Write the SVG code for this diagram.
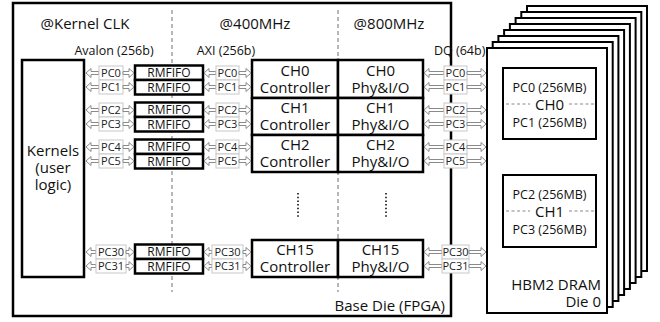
<svg xmlns="http://www.w3.org/2000/svg" xmlns:xlink="http://www.w3.org/1999/xlink" width="660" height="322" viewBox="0 0 660 322">
<style>
text{font-family:"Open Sans","Liberation Sans",sans-serif;fill:#111}
.t15{font-size:15px;text-anchor:middle}
.t12{font-size:12.5px;text-anchor:middle}
.rf{font-size:12px;text-anchor:middle}
.pc{font-size:11px;text-anchor:middle;fill:#222}
.box{fill:#fff;stroke:#000;stroke-width:2.5}
.layer{fill:#fff;stroke:#000;stroke-width:2}
.sep{stroke:#888;stroke-width:1.2;stroke-dasharray:4 3;fill:none}
.dots{stroke:#000;stroke-width:1.5;stroke-dasharray:1.5 2.2;fill:none}
.pcb{fill:#fff;stroke:#c8c8c8;stroke-width:1}
.arr{fill:#fff;stroke:#8a8a8a;stroke-width:1}
.hd{stroke:#888;stroke-width:1;stroke-dasharray:3 2.5}
</style>
<defs>
<g id="pk">
<polygon class="arr" points="86,0 91,-4.5 91,-1.5 99,-1.5 99,1.5 91,1.5 91,4.5"/>
<rect class="pcb" x="99" y="-7" width="24" height="14"/>
<polygon class="arr" points="134,0 129,-4.5 129,-1.5 123,-1.5 123,1.5 129,1.5 129,4.5"/>
</g>
<g id="pkw">
<polygon class="arr" points="86,0 91,-4.5 91,-1.5 96,-1.5 96,1.5 91,1.5 91,4.5"/>
<rect class="pcb" x="96" y="-7" width="30" height="14"/>
<polygon class="arr" points="134,0 129,-4.5 129,-1.5 126,-1.5 126,1.5 129,1.5 129,4.5"/>
</g>
<g id="pa">
<polygon class="arr" points="204,0 209,-4.5 209,-1.5 216,-1.5 216,1.5 209,1.5 209,4.5"/>
<rect class="pcb" x="216" y="-7" width="23" height="14"/>
<polygon class="arr" points="251,0 246,-4.5 246,-1.5 239,-1.5 239,1.5 246,1.5 246,4.5"/>
</g>
<g id="paw">
<polygon class="arr" points="204,0 209,-4.5 209,-1.5 212,-1.5 212,1.5 209,1.5 209,4.5"/>
<rect class="pcb" x="212" y="-7" width="31" height="14"/>
<polygon class="arr" points="251,0 246,-4.5 246,-1.5 243,-1.5 243,1.5 246,1.5 246,4.5"/>
</g>
<g id="pd">
<polygon class="arr" points="424,0 429,-4.5 429,-1.5 444,-1.5 444,1.5 429,1.5 429,4.5"/>
<rect class="pcb" x="444" y="-7" width="23" height="14"/>
<polygon class="arr" points="486,0 481,-4.5 481,-1.5 467,-1.5 467,1.5 481,1.5 481,4.5"/>
</g>
<g id="pdw">
<polygon class="arr" points="424,0 429,-4.5 429,-1.5 442,-1.5 442,1.5 429,1.5 429,4.5"/>
<rect class="pcb" x="442" y="-7" width="27" height="14"/>
<polygon class="arr" points="486,0 481,-4.5 481,-1.5 469,-1.5 469,1.5 481,1.5 481,4.5"/>
</g>
</defs>

<g id="hbm">
<rect class="layer" x="527" y="6" width="120" height="265"/>
<rect class="layer" x="521.3" y="12" width="120" height="265"/>
<rect class="layer" x="515.6" y="18" width="120" height="265"/>
<rect class="layer" x="509.9" y="24" width="120" height="265"/>
<rect class="layer" x="504.1" y="30" width="120" height="265"/>
<rect class="layer" x="498.4" y="36" width="120" height="265"/>
<rect class="layer" x="492.7" y="42" width="120" height="265"/>
<rect class="layer" x="487" y="48" width="120" height="265"/>
<text x="601" y="290" style="font-size:15px;text-anchor:end">HBM2 DRAM<tspan x="601" dy="17">Die 0</tspan></text>
</g>
<g id="hbm-ch0">
<rect class="box" x="503" y="68" width="93" height="71" style="stroke-width:2"/>
<line class="hd" x1="506" y1="104" x2="530" y2="104"/>
<line class="hd" x1="569" y1="104" x2="594" y2="104"/>
<text class="t12" x="549.5" y="92">PC0 (256MB)<tspan x="549.5" dy="18" style="font-size:15px">CH0</tspan><tspan x="549.5" dy="17">PC1 (256MB)</tspan></text>
</g>
<g id="hbm-ch1">
<rect class="box" x="503" y="175" width="93" height="72" style="stroke-width:2"/>
<line class="hd" x1="506" y1="211" x2="530" y2="211"/>
<line class="hd" x1="569" y1="211" x2="594" y2="211"/>
<text class="t12" x="549.5" y="199">PC2 (256MB)<tspan x="549.5" dy="18" style="font-size:15px">CH1</tspan><tspan x="549.5" dy="17">PC3 (256MB)</tspan></text>
</g>

<g id="base-die">
<rect x="13" y="3" width="438" height="313" fill="#fff" stroke="#000" stroke-width="2.5"/>
<line class="sep" x1="172" y1="10" x2="172" y2="292"/>
<line class="sep" x1="338" y1="10" x2="338" y2="292"/>
<text class="t15" x="85" y="29">@Kernel CLK</text>
<text class="t15" x="255" y="29">@400MHz</text>
<text class="t15" x="389" y="29">@800MHz</text>
<text class="t12" x="114" y="55">Avalon (256b)</text>
<text class="t12" x="226" y="55">AXI (256b)</text>
<text x="434" y="55" style="font-size:12.5px">DQ (64b)</text>
<text x="445" y="311" style="font-size:15px;text-anchor:end">Base Die (FPGA)</text>
</g>

<g id="kernels">
<rect class="box" x="22" y="60" width="62" height="217"/>
<text class="t15" x="53" y="156">Kernels<tspan x="53" dy="17">(user</tspan><tspan x="53" dy="17">logic)</tspan></text>
</g>

<g id="rmfifo-0"><rect class="box" x="135" y="65.5" width="68" height="14.5"/><text class="rf" x="169" y="77">RMFIFO</text></g>
<g id="rmfifo-1"><rect class="box" x="135" y="80" width="68" height="14.5"/><text class="rf" x="169" y="91.5">RMFIFO</text></g>
<g id="rmfifo-2"><rect class="box" x="135" y="102.5" width="68" height="14.5"/><text class="rf" x="169" y="114">RMFIFO</text></g>
<g id="rmfifo-3"><rect class="box" x="135" y="117" width="68" height="14.5"/><text class="rf" x="169" y="128.5">RMFIFO</text></g>
<g id="rmfifo-4"><rect class="box" x="135" y="139.5" width="68" height="14.5"/><text class="rf" x="169" y="151">RMFIFO</text></g>
<g id="rmfifo-5"><rect class="box" x="135" y="154" width="68" height="14.5"/><text class="rf" x="169" y="165.5">RMFIFO</text></g>
<g id="rmfifo-30"><rect class="box" x="135" y="244.5" width="68" height="14.5"/><text class="rf" x="169" y="256">RMFIFO</text></g>
<g id="rmfifo-31"><rect class="box" x="135" y="259" width="68" height="14.5"/><text class="rf" x="169" y="270.5">RMFIFO</text></g>

<g id="ch0-ctrl"><rect class="box" x="252" y="60" width="86" height="38"/><text class="t15" x="295" y="76">CH0<tspan x="295" dy="17">Controller</tspan></text></g>
<g id="ch0-phy"><rect class="box" x="338" y="60" width="85" height="38"/><text class="t15" x="380.5" y="76">CH0<tspan x="380.5" dy="17">Phy&amp;I/O</tspan></text></g>
<g id="ch1-ctrl"><rect class="box" x="252" y="98" width="86" height="37"/><text class="t15" x="295" y="113">CH1<tspan x="295" dy="17">Controller</tspan></text></g>
<g id="ch1-phy"><rect class="box" x="338" y="98" width="85" height="37"/><text class="t15" x="380.5" y="113">CH1<tspan x="380.5" dy="17">Phy&amp;I/O</tspan></text></g>
<g id="ch2-ctrl"><rect class="box" x="252" y="135" width="86" height="37"/><text class="t15" x="295" y="150">CH2<tspan x="295" dy="17">Controller</tspan></text></g>
<g id="ch2-phy"><rect class="box" x="338" y="135" width="85" height="37"/><text class="t15" x="380.5" y="150">CH2<tspan x="380.5" dy="17">Phy&amp;I/O</tspan></text></g>
<g id="ch15-ctrl"><rect class="box" x="252" y="240" width="86" height="37"/><text class="t15" x="295" y="255">CH15<tspan x="295" dy="17">Controller</tspan></text></g>
<g id="ch15-phy"><rect class="box" x="338" y="240" width="85" height="37"/><text class="t15" x="380.5" y="255">CH15<tspan x="380.5" dy="17">Phy&amp;I/O</tspan></text></g>
<g id="ellipsis">
<line class="dots" x1="298" y1="193" x2="298" y2="217"/>
<line class="dots" x1="386" y1="193" x2="386" y2="217"/>
</g>

<g id="connectors">
<use href="#pk" xlink:href="#pk" transform="translate(0,73)"/>
<use href="#pk" xlink:href="#pk" transform="translate(0,87)"/>
<use href="#pk" xlink:href="#pk" transform="translate(0,110)"/>
<use href="#pk" xlink:href="#pk" transform="translate(0,124)"/>
<use href="#pk" xlink:href="#pk" transform="translate(0,147)"/>
<use href="#pk" xlink:href="#pk" transform="translate(0,161)"/>
<use href="#pkw" xlink:href="#pkw" transform="translate(0,252)"/>
<use href="#pkw" xlink:href="#pkw" transform="translate(0,266)"/>
<use href="#pa" xlink:href="#pa" transform="translate(0,73)"/>
<use href="#pa" xlink:href="#pa" transform="translate(0,87)"/>
<use href="#pa" xlink:href="#pa" transform="translate(0,110)"/>
<use href="#pa" xlink:href="#pa" transform="translate(0,124)"/>
<use href="#pa" xlink:href="#pa" transform="translate(0,147)"/>
<use href="#pa" xlink:href="#pa" transform="translate(0,161)"/>
<use href="#paw" xlink:href="#paw" transform="translate(0,252)"/>
<use href="#paw" xlink:href="#paw" transform="translate(0,266)"/>
<use href="#pd" xlink:href="#pd" transform="translate(0,73)"/>
<use href="#pd" xlink:href="#pd" transform="translate(0,87)"/>
<use href="#pd" xlink:href="#pd" transform="translate(0,110)"/>
<use href="#pd" xlink:href="#pd" transform="translate(0,124)"/>
<use href="#pd" xlink:href="#pd" transform="translate(0,147)"/>
<use href="#pd" xlink:href="#pd" transform="translate(0,161)"/>
<use href="#pdw" xlink:href="#pdw" transform="translate(0,252)"/>
<use href="#pdw" xlink:href="#pdw" transform="translate(0,266)"/>
<text class="pc" x="111" y="77">PC0</text>
<text class="pc" x="111" y="91">PC1</text>
<text class="pc" x="111" y="114">PC2</text>
<text class="pc" x="111" y="128">PC3</text>
<text class="pc" x="111" y="151">PC4</text>
<text class="pc" x="111" y="165">PC5</text>
<text class="pc" x="111" y="256">PC30</text>
<text class="pc" x="111" y="270">PC31</text>
<text class="pc" x="227.5" y="77">PC0</text>
<text class="pc" x="227.5" y="91">PC1</text>
<text class="pc" x="227.5" y="114">PC2</text>
<text class="pc" x="227.5" y="128">PC3</text>
<text class="pc" x="227.5" y="151">PC4</text>
<text class="pc" x="227.5" y="165">PC5</text>
<text class="pc" x="227.5" y="256">PC30</text>
<text class="pc" x="227.5" y="270">PC31</text>
<text class="pc" x="455.5" y="77">PC0</text>
<text class="pc" x="455.5" y="91">PC1</text>
<text class="pc" x="455.5" y="114">PC2</text>
<text class="pc" x="455.5" y="128">PC3</text>
<text class="pc" x="455.5" y="151">PC4</text>
<text class="pc" x="455.5" y="165">PC5</text>
<text class="pc" x="455.5" y="256">PC30</text>
<text class="pc" x="455.5" y="270">PC31</text>
</g>
</svg>
